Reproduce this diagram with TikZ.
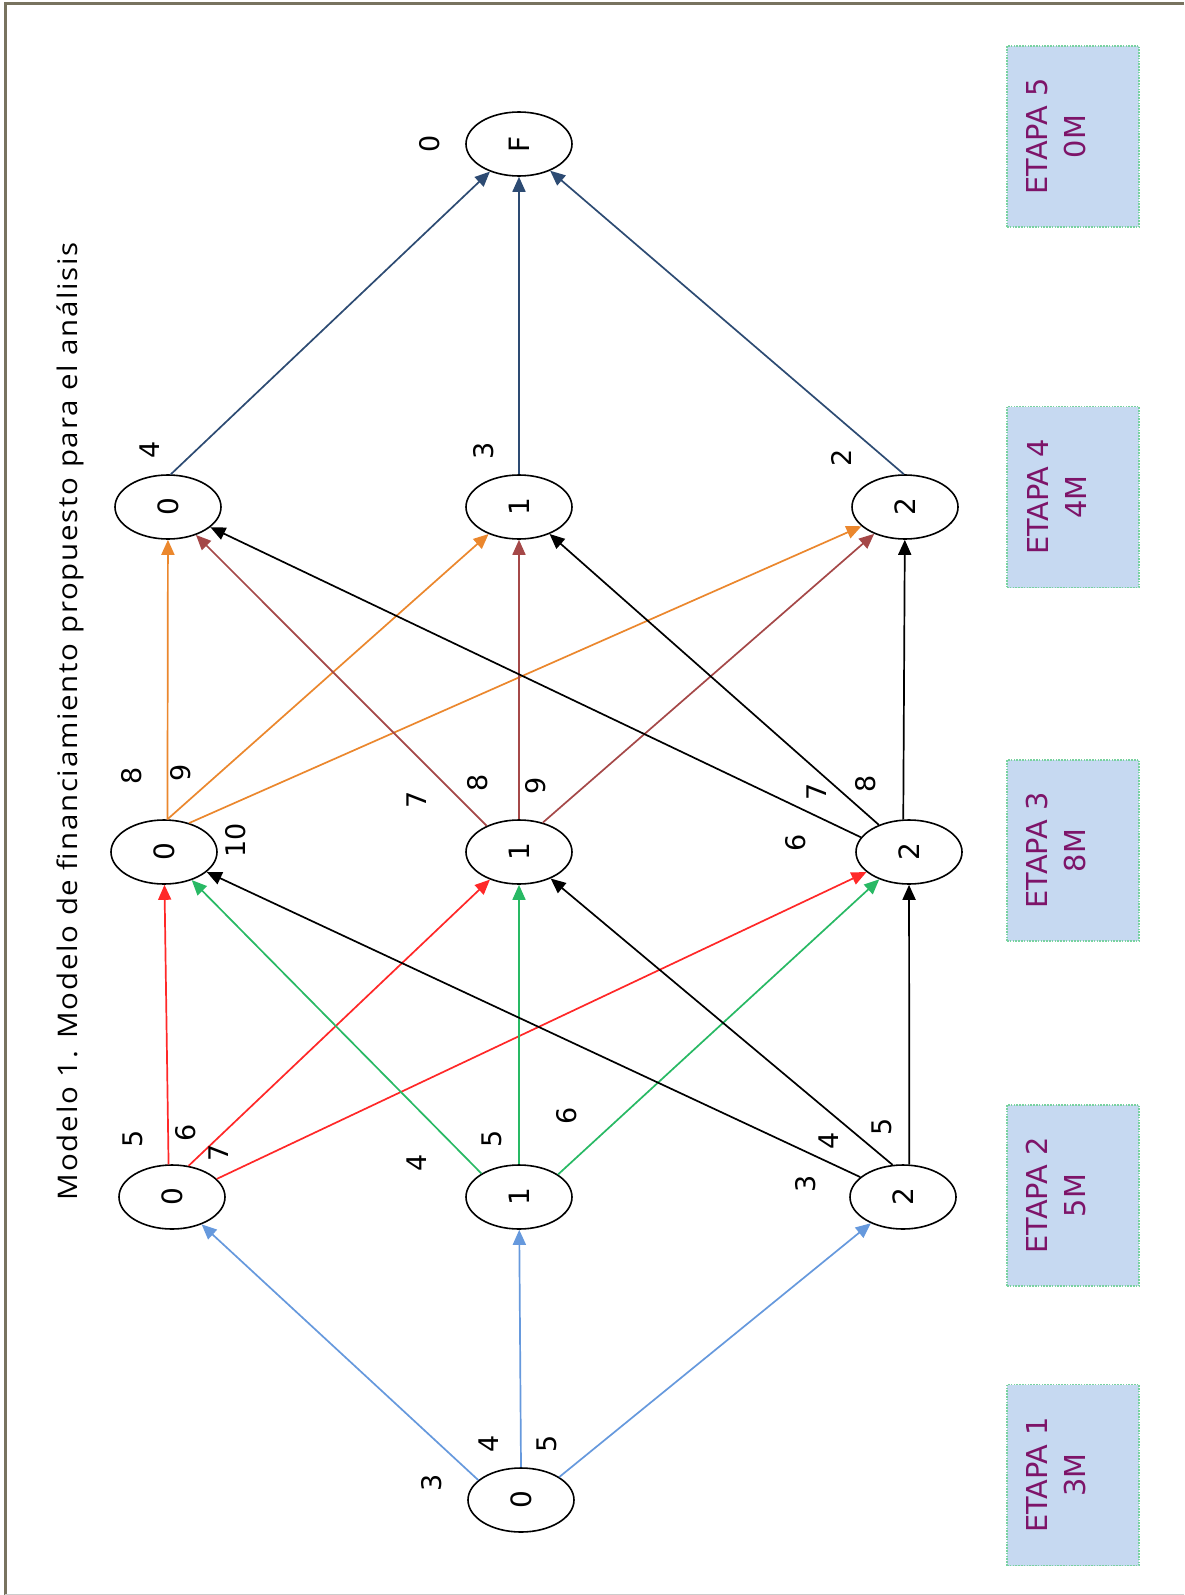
\documentclass[tikz,border=0pt]{standalone}
\usepackage{fontspec}
\usetikzlibrary{shapes.geometric,arrows.meta}
\newfontfamily\digitfont{DejaVu Sans}
\newfontfamily\titlefont[LetterSpace=6]{Open Sans}
\newcommand\vtxt[1]{\rotatebox{90}{#1}}
\definecolor{cblue}{RGB}{102,153,221}
\definecolor{cred}{RGB}{255,40,40}
\definecolor{cgreen}{RGB}{40,185,100}
\definecolor{corange}{RGB}{235,135,45}
\definecolor{cbrown}{RGB}{165,72,72}
\definecolor{cnavy}{RGB}{45,75,115}
\definecolor{cpurple}{RGB}{125,20,105}
\definecolor{boxfill}{RGB}{198,217,241}
\definecolor{boxline}{RGB}{120,210,160}
\definecolor{framecol}{RGB}{120,115,95}
\tikzset{
  nd/.style={ellipse, draw, line width=0.8pt, minimum width=53pt, minimum height=32pt,
    inner sep=0pt, font=\digitfont\fontsize{14}{14}\selectfont},
  lbl/.style={inner sep=0pt, font=\digitfont\fontsize{13.5}{13.5}\selectfont},
  edge/.style={line width=0.85pt, -{Triangle[length=7.5pt,width=6.5pt]}},
  eblue/.style={edge, draw=cblue, fill=cblue},
  ered/.style={edge, draw=cred, fill=cred},
  egreen/.style={edge, draw=cgreen, fill=cgreen},
  eblack/.style={edge, draw=black, fill=black},
  eorange/.style={edge, draw=corange, fill=corange},
  ebrown/.style={edge, draw=cbrown, fill=cbrown},
  enavy/.style={edge, draw=cnavy, fill=cnavy},
  stagebox/.style={draw=boxline, fill=boxfill, line width=0.8pt,
    dash pattern=on 0.8pt off 0.6pt, minimum width=66pt, minimum height=90.5pt, inner sep=0pt},
  stagetext/.style={text=cpurple, align=center, rotate=90, inner sep=0pt,
    font=\digitfont\fontsize{14.4}{19}\selectfont},
}
\begin{document}
\begin{tikzpicture}[x=0.5pt, y=-0.5pt]
\useasboundingbox (0,0) rectangle (1184,1595);
\fill[white] (0,0) rectangle (1184,1595);
% outer frame
\draw[framecol, line width=1.8pt] (1184,3.7) -| (5.3,1595);
\draw[black!20, line width=0.5pt] (5.3,1594) -- (1184,1594);

% title
\node[rotate=90, anchor=base, inner sep=0pt, font=\titlefont\fontsize{13.5}{13.5}\selectfont]
  (title) at (77,721) {\resizebox{479pt}{\height}{Modelo 1. Modelo de financiamiento propuesto para el análisis}};

% stage boxes
\node[stagebox] (s5) at (1073,136.5) {};
\node[stagebox] (s4) at (1073,497) {};
\node[stagebox] (s3) at (1073,850.5) {};
\node[stagebox] (s2) at (1073,1195.5) {};
\node[stagebox] (s1) at (1073,1475) {};
\node[stagetext] (t5) at (1056.5,136.5) {ETAPA 5\\0M};
\node[stagetext] (t4) at (1056.5,497) {ETAPA 4\\4M};
\node[stagetext] (t3) at (1056.5,850.5) {ETAPA 3\\8M};
\node[stagetext] (t2) at (1056.5,1195.5) {ETAPA 2\\5M};
\node[stagetext] (t1) at (1056.5,1475) {ETAPA 1\\3M};

% states
\node[nd] (a0) at (521,1500) {\vtxt{0}};
\node[nd] (b0) at (172,1197) {\vtxt{0}};
\node[nd] (b1) at (519,1197) {\vtxt{1}};
\node[nd] (b2) at (903,1197) {\vtxt{2}};
\node[nd] (c0) at (164,852) {\vtxt{0}};
\node[nd] (c1) at (519,852) {\vtxt{1}};
\node[nd] (c2) at (909,852) {\vtxt{2}};
\node[nd] (d0) at (168,507) {\vtxt{0}};
\node[nd] (d1) at (519,507) {\vtxt{1}};
\node[nd] (d2) at (905,507) {\vtxt{2}};
\node[nd] (f) at (519,144) {\vtxt{F}};

% stage 1 -> stage 2
\draw[eblue] (a0.155) -- (b0);
\draw[eblue] (a0.north) -- (b1);
\draw[eblue] (a0.31) -- (b2);
% stage 2 -> stage 3
\draw[ered] (b0.96) -- (c0);
\draw[ered] (b0.62) -- (c1);
\draw[ered] (b0.22) -- (c2);
\draw[egreen] (b1.148) -- (c0);
\draw[egreen] (b1.north) -- (c1);
\draw[egreen] (b1.30) -- (c2);
\draw[eblack] (b2.155) -- (c0);
\draw[eblack] (b2.108) -- (c1);
\draw[eblack] (b2.79) -- (c2);
% stage 3 -> stage 4
\draw[eorange] (c0.84) -- (d0);
\draw[eorange] (c0.84) -- (d1);
\draw[eorange] (c0.49) -- (d2);
\draw[ebrown] (c1.141) -- (d0);
\draw[ebrown] (c1.north) -- (d1);
\draw[ebrown] (c1.51) -- (d2);
\draw[eblack] (c2.163) -- (d0);
\draw[eblack] (c2.138) -- (d1);
\draw[eblack] (c2.100) -- (d2);
% stage 4 -> final
\draw[enavy] (d0.85) -- (f);
\draw[enavy] (d1.north) -- (f);
\draw[enavy] (d2.92) -- (f);

% costs
\node[lbl] (l01) at (432,1483) {\vtxt{3}};
\node[lbl] (l02) at (489,1444) {\vtxt{4}};
\node[lbl] (l03) at (547,1444) {\vtxt{5}};
\node[lbl] (l04) at (133,1139) {\vtxt{5}};
\node[lbl] (l05) at (186,1133) {\vtxt{6}};
\node[lbl] (l06) at (219,1153) {\vtxt{7}};
\node[lbl] (l07) at (417,1163) {\vtxt{4}};
\node[lbl] (l08) at (492,1139) {\vtxt{5}};
\node[lbl] (l09) at (567,1116) {\vtxt{6}};
\node[lbl] (l10) at (806,1184) {\vtxt{3}};
\node[lbl] (l11) at (829,1141) {\vtxt{4}};
\node[lbl] (l12) at (882,1127) {\vtxt{5}};
\node[lbl] (l13) at (132,776) {\vtxt{8}};
\node[lbl] (l14) at (181,773) {\vtxt{9}};
\node[lbl] (l15) at (236,840) {\vtxt{10}};
\node[lbl] (l16) at (417,800) {\vtxt{7}};
\node[lbl] (l17) at (478,783) {\vtxt{8}};
\node[lbl] (l18) at (536,786) {\vtxt{9}};
\node[lbl] (l19) at (796,843) {\vtxt{6}};
\node[lbl] (l20) at (817,792) {\vtxt{7}};
\node[lbl] (l21) at (866,784) {\vtxt{8}};
\node[lbl] (l22) at (150,450) {\vtxt{4}};
\node[lbl] (l23) at (484,451) {\vtxt{3}};
\node[lbl] (l24) at (841,458) {\vtxt{2}};
\node[lbl] (l25) at (430,144) {\vtxt{0}};
\end{tikzpicture}
\end{document}
